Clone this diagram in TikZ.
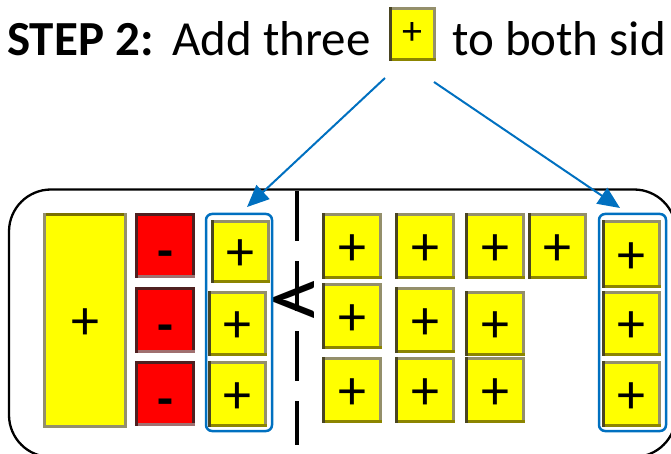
\documentclass[tikz,border=0pt]{standalone}
\usepackage{fontspec}
\setmainfont{Carlito}
\usetikzlibrary{arrows.meta}

\definecolor{tileyellow}{HTML}{FFFF00}
\definecolor{tilered}{HTML}{FF0000}
\definecolor{edgegray}{HTML}{948F6B}
\definecolor{edgedark}{HTML}{4A4522}
\definecolor{edgeolive}{HTML}{8C8500}
\definecolor{edgetopolive}{HTML}{7A7000}
\definecolor{reddark}{HTML}{4F2020}
\definecolor{redlight}{HTML}{A07070}
\definecolor{boxblue}{HTML}{0070C0}

% bevelled tile border: top, right, bottom, left colours
\newcommand\tileedges[4]{%
  \fill[#1] (path picture bounding box.north west) rectangle ([yshift=-3pt]path picture bounding box.north east);
  \fill[#2] (path picture bounding box.north east) rectangle ([xshift=-3pt]path picture bounding box.south east);
  \fill[#3] (path picture bounding box.south west) rectangle ([yshift=3pt]path picture bounding box.south east);
  \fill[#4] (path picture bounding box.north west) rectangle ([xshift=3pt]path picture bounding box.south west);
}
% signs sit a little below the tile centre
\newcommand\tplus{\raisebox{-4pt}[\height][\depth]{+}}
\newcommand\tminus{\raisebox{-14pt}[\height][\depth]{-}}

\begin{document}
\begin{tikzpicture}[x=1pt,y=-1pt,
  wh/.style 2 args={minimum width=#1pt, minimum height=#2pt},
  tilebase/.style={rectangle, inner sep=0pt, outer sep=0pt},
  signfont/.style={font=\fontsize{56}{56}\selectfont},
  pos tile/.style={tilebase, fill=tileyellow, signfont,
    path picture={\tileedges{edgegray}{edgegray}{edgeolive}{edgedark}}},
  long tile/.style={tilebase, fill=tileyellow, signfont,
    path picture={\tileedges{edgetopolive}{edgegray}{edgegray}{edgegray}}},
  neg tile/.style={tilebase, fill=tilered, font=\fontsize{52}{52}\selectfont\bfseries,
    path picture={\tileedges{reddark}{reddark}{redlight}{reddark}}},
  group box/.style={draw=boxblue, line width=2.5pt, rounded corners=6pt},
  callout arrow/.style={draw=boxblue, line width=2pt, -{Triangle[length=22pt,width=19pt]}},
  titletext/.style={anchor=base west, inner sep=0pt, font=\fontsize{49}{49}\selectfont},
]
\useasboundingbox (0,0) rectangle (671,454);
\clip (0,0) rectangle (671,454);

% heading
\node[titletext, font=\fontsize{49}{49}\selectfont\bfseries] (stepword) at (7,56) {STEP 2:};
\node[titletext] (addword) at (172,56) {Add three};
\node[pos tile, wh={47}{54}, font=\fontsize{40}{40}\selectfont] (keytile) at (412.5,34) {+};
\node[titletext] (restword) at (452,56) {to both sid};

% mat
\draw[line width=2.3pt, rounded corners=42pt] (9,189.5) rectangle (676,457);

% dividing line and inequality sign
\coordinate (divtop) at (297,191);
\coordinate (divbot) at (297,445);
\draw[line width=4.5pt, dash pattern=on 50pt off 20pt] (divtop) -- (divbot);
\node[inner sep=0pt, font=\fontsize{90}{90}\selectfont, xscale=1.3] (lessthan) at (296,305) {<};

% left side: one long tile and three negative units
\node[long tile, wh={84}{215}] (xtile) at (85,320.5) {\tplus};
\node[neg tile, wh={60}{65}] (neg1) at (165,245.5) {\tminus};
\node[neg tile, wh={60}{66}] (neg2) at (165,320) {\tminus};
\node[neg tile, wh={60}{65}] (neg3) at (165,393.5) {\tminus};

% left side: added units
\node[pos tile, wh={59}{63}] (ladd1) at (240.5,251.5) {\tplus};
\node[pos tile, wh={59}{65}] (ladd2) at (237.5,323.5) {\tplus};
\node[pos tile, wh={59}{66}] (ladd3) at (237.5,394) {\tplus};
\draw[group box] (206,214) rectangle (272,431);

% right side: ten units
\node[pos tile, wh={60}{66}] (u11) at (352,246) {\tplus};
\node[pos tile, wh={60}{66}] (u12) at (425,246) {\tplus};
\node[pos tile, wh={60}{66}] (u13) at (495,246) {\tplus};
\node[pos tile, wh={59}{66}] (u14) at (557.5,246) {\tplus};
\node[pos tile, wh={60}{66}] (u21) at (352,316) {\tplus};
\node[pos tile, wh={60}{66}] (u22) at (425,320) {\tplus};
\node[pos tile, wh={60}{65}] (u23) at (495,323.5) {\tplus};
\node[pos tile, wh={60}{66}] (u31) at (352,390) {\tplus};
\node[pos tile, wh={60}{66}] (u32) at (425,390) {\tplus};
\node[pos tile, wh={60}{66}] (u33) at (495,390) {\tplus};

% right side: added units
\node[pos tile, wh={59}{68}] (radd1) at (631.5,254) {\tplus};
\node[pos tile, wh={59}{65}] (radd2) at (631.5,323.5) {\tplus};
\node[pos tile, wh={59}{66}] (radd3) at (631.5,394) {\tplus};
\draw[group box] (599,214) rectangle (666,431);

% arrows from the heading tile to both groups
\coordinate (lfrom) at (385,78);
\coordinate (lto) at (247,207);
\coordinate (rfrom) at (434,82);
\coordinate (rto) at (620,208);
\draw[callout arrow] (lfrom) -- (lto);
\draw[callout arrow] (rfrom) -- (rto);
\end{tikzpicture}
\end{document}
